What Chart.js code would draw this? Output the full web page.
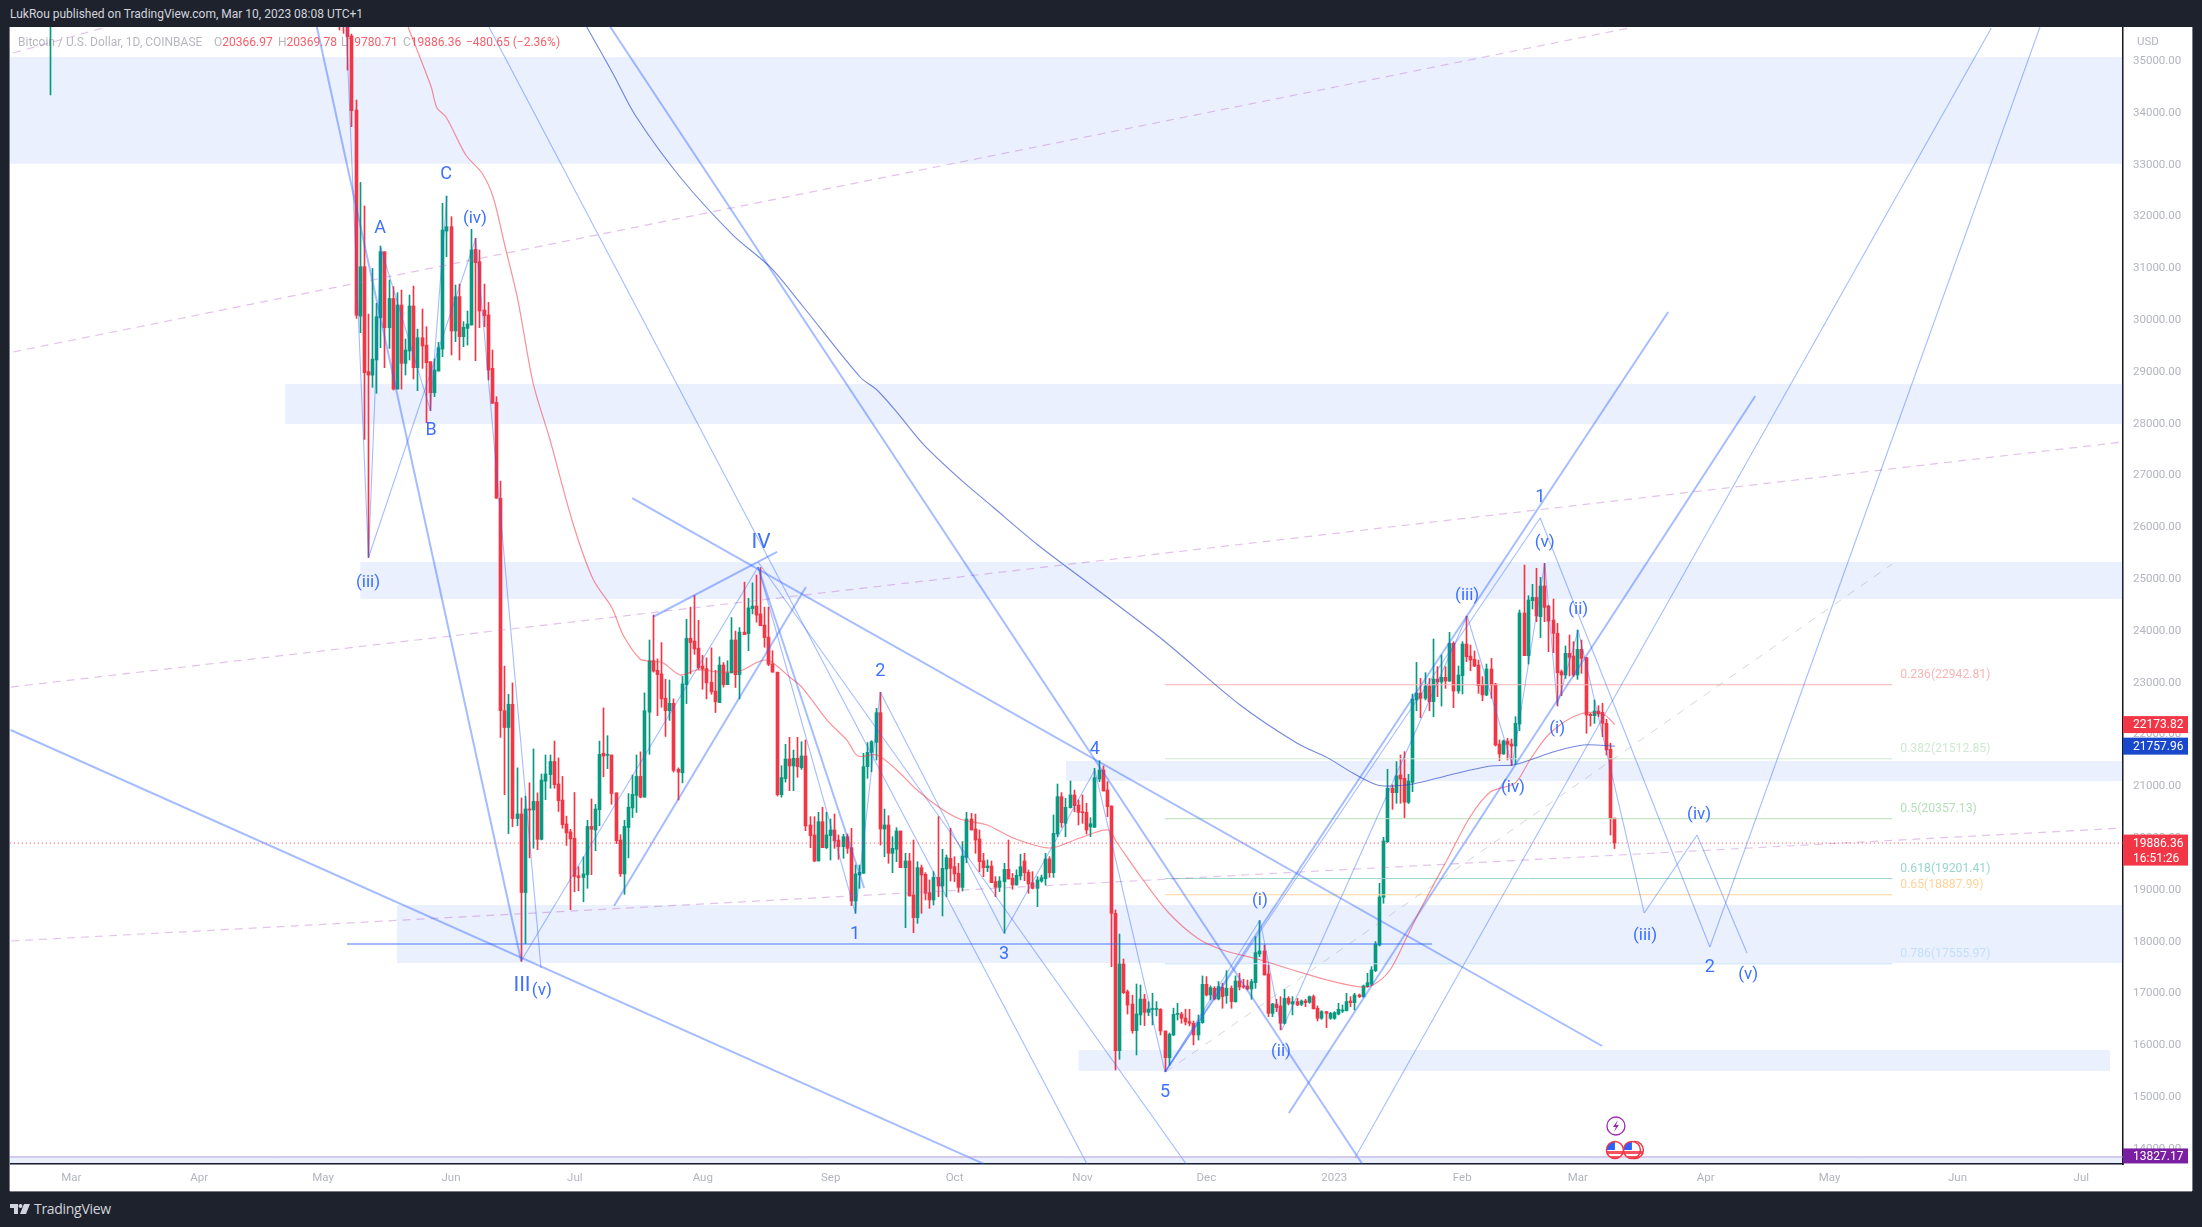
<!DOCTYPE html>
<html>
<head>
<meta charset="utf-8">
<title>BTCUSD 1D</title>
<script src="https://cdn.jsdelivr.net/npm/chart.js@4/dist/chart.umd.js"></script>
<style>
    html, body { margin: 0; padding: 0; background: #1e222d; width: 2202px; height: 1227px; overflow: hidden; font-family: Roboto, sans-serif; }
    #header { position: absolute; left: 10px; top: 7px; color: #d1d4dc; font-size: 12px; line-height: 15px; white-space: nowrap; }
    #pane { position: absolute; left: 10px; top: 27px; width: 2182px; height: 1164px; background: #fff; box-shadow: -1px 0 0 #787b86, 1px 0 0 #787b86, 0 1px 0 #787b86; }
    #legend span { position: absolute; top: 8px; font-size: 12px; line-height: 15px; white-space: nowrap; color: rgba(120,123,134,.55); }
    #legend b { font-weight: 400; color: rgba(242,54,69,.8); }
    #usd { position: absolute; left: 2137px; top: 34px; color: #b2b5be; font-size: 11.5px; line-height: 14px; }
    #logo { position: absolute; left: 10px; top: 1204px; }
    #brand { position: absolute; left: 34px; top: 1200px; color: #d1d4dc; font-size: 14px; line-height: 18px; font-family: "Open Sans", sans-serif; letter-spacing: -.3px; }
</style>
</head>
<body>
<div id="header">LukRou published on TradingView.com, Mar 10, 2023 08:08 UTC+1</div>
<div id="pane">
    <canvas id="chart" width="2182" height="1164"></canvas>
    <div id="legend">
        <span style="left:8px">Bitcoin / U.S. Dollar, 1D, COINBASE</span>
        <span style="left:204px">O<b>20366.97</b></span>
        <span style="left:268px">H<b>20369.78</b></span>
        <span style="left:331px">L<b>19780.71</b></span>
        <span style="left:393px">C<b>19886.36</b></span>
        <span style="left:456px"><b>−480.65 (−2.36%)</b></span>
    </div>
</div>
<div id="usd">USD</div>
<svg id="logo" width="20" height="10" viewBox="0 0 20 10"><path d="M0 0h8v10H4V4H0z M14 0h6l-4 10h-6z" fill="#d1d4dc"/><circle cx="10.5" cy="2" r="2" fill="#d1d4dc"/></svg>
<div id="brand">TradingView</div>
<script>
// 시간축: 2022-03-01 을 0 으로 둔 일(day) 단위
const monthTicks = [0, 31, 61, 92, 122, 153, 184, 214, 245, 275, 306, 337, 365, 396, 426, 457, 487];
const monthLabels = ['Mar', 'Apr', 'May', 'Jun', 'Jul', 'Aug', 'Sep', 'Oct', 'Nov', 'Dec', '2023', 'Feb', 'Mar', 'Apr', 'May', 'Jun', 'Jul'];
const priceTicks = [14000, 15000, 16000, 17000, 18000, 19000, 20000, 21000, 22000, 23000, 24000, 25000, 26000, 27000, 28000, 29000, 30000, 31000, 32000, 33000, 34000, 35000];

// 일봉: 첫 값은 day -5, 그 다음은 day 65 ~ 374 (10개씩 한 줄)
const stubDay = -5;
const firstDay = 65;
const openPrices = [37000,
    37000,36600,36100,35467,34038,30060,31014,28987,28920,29212,
    30030,31303,29836,30400,28652,30274,29148,29386,30255,29064,
    29643,29500,29180,28581,28999,29424,31702,31786,29772,30435,
    29663,29823,29888,31348,31110,30177,30081,29051,28395,26544,
    22442,22117,22566,20359,20449,18932,20545,20525,20690,19959,
    21083,21207,21462,21028,20718,20256,20104,19980,19256,19222,
    19277,20207,20138,20531,21621,21580,21587,20856,19946,19291,
    20187,20566,20807,21173,20773,22414,23407,23221,23152,22683,
    22442,22586,21311,21242,22945,23841,23786,23648,23303,23255,
    22993,22821,22600,23324,22945,23172,23807,23138,23958,23931,
    24413,24462,24310,24096,23862,23345,23186,20821,21131,21510,
    21375,21523,21342,21568,20236,20043,19541,20300,19798,20030,
    20139,19946,19817,20010,19798,18768,19270,19303,21362,21638,
    21831,22404,20158,20236,19689,19766,20120,19412,19541,18884,
    18447,19412,19283,18929,18788,19225,19058,19386,19592,19431,
    19303,19032,19611,20351,20158,19965,19547,19412,19444,19142,
    19032,19142,19380,19206,19077,19251,19541,19322,19122,19013,
    19155,19200,19580,19315,20062,20782,20268,20570,20815,20622,
    20480,20480,20200,20190,21124,21297,20911,20603,18530,15879,
    17552,17018,16780,16265,16568,16876,16619,16672,16675,16678,
    16259,15744,16182,16580,16587,16510,16439,16407,16182,16420,
    17160,16954,17083,16877,17102,16942,17083,16826,17224,17128,
    17128,17070,17192,17746,17804,17360,16600,16780,16742,16407,
    16890,16780,16826,16774,16838,16813,16922,16697,16504,16633,
    16504,16504,16587,16645,16651,16838,16806,16954,16922,17115,
    17160,17424,17920,18839,19914,20944,20860,21201,21137,20674,
    21059,22648,22783,22680,22918,22616,23053,22996,23086,23015,
    23742,22822,23118,23729,23497,23433,23324,22938,22745,23247,
    22957,21799,21606,21857,21799,21760,22185,24328,23504,24566,
    24630,24257,24849,24463,24192,23935,23195,23131,23549,23497,
    23131,23626,23465,22371,22346,22436,22410,22198,21696,20366.97];
const highPrices = [39800,
    37600,36800,36300,35505,34231,32641,32185,30100,30980,30306,
    31413,31303,30756,30628,30512,30563,29617,30467,30640,29810,
    30197,29856,29180,29231,29553,32236,32378,31979,30660,30679,
    29952,30158,31735,31561,31336,30679,30325,29405,28504,26875,
    23303,22759,22979,21338,20759,20794,21049,21704,20856,21221,
    21587,21587,21855,21531,21173,20407,20152,20863,19428,19621,
    20325,20738,20635,21855,22497,21959,21587,20856,20049,20325,
    20842,21200,21587,21648,22786,23807,24289,23441,23758,23048,
    23034,22669,21338,23104,24207,24441,24669,24186,23510,23462,
    23655,23220,23483,23372,23407,24241,23979,24048,24924,24613,
    24910,25062,25206,24441,24441,23600,23186,21380,21793,21928,
    21683,21928,21844,21877,20396,20396,20480,20577,20480,20351,
    20448,20043,20055,20062,20171,19463,19463,21619,21825,21863,
    22488,22797,20544,20416,20010,20184,20120,19689,19689,19946,
    19528,19463,19315,19174,19335,20396,19766,19656,20171,19624,
    19496,19914,20480,20461,20448,20139,19689,19560,19541,19238,
    19238,19496,19946,19299,19370,19669,19689,19367,19335,19238,
    19270,19689,19624,20429,21027,20860,20750,21085,20910,20720,
    20815,20654,20377,21330,21478,21375,21072,20603,18595,18131,
    17649,17050,16950,17166,17147,16967,16825,16986,16825,16690,
    16259,16220,16700,16793,16620,16680,16678,16451,16568,17321,
    17308,17128,17115,17212,17180,17424,17128,17321,17373,17256,
    17243,17256,18080,18389,17920,17533,16793,16870,16922,17064,
    16922,16922,16890,16858,16870,16935,16954,16742,16651,16633,
    16620,16633,16793,16761,16986,16922,16986,16973,17147,17373,
    17501,17984,19110,19998,21311,21010,21459,21587,21652,21213,
    22764,23375,23066,23176,23066,23826,23292,23517,23292,23954,
    23774,23305,23774,24270,23710,23594,23420,23100,23343,23452,
    22970,21876,21876,21908,21896,22326,24386,25254,24662,24881,
    25190,25016,25286,24480,24598,24128,23228,23691,23903,23774,
    24000,23806,23472,22391,22648,22539,22584,22275,21812,20369.78];
const lowPrices = [34328,
    35582,35518,34810,33716,30016,29740,27680,25400,28684,28570,
    29450,29064,29437,28632,28652,28650,28922,29212,28845,28620,
    29051,28002,28234,28504,28999,29276,31207,29309,29566,29212,
    29470,29500,29888,29199,29836,29856,28826,28376,26544,21924,
    20821,20070,20201,20221,17601,17946,19601,19787,19759,19946,
    20725,20945,20945,20497,20173,19842,18601,18946,18966,18753,
    19014,19277,19738,20221,21166,21324,20635,19876,19242,18897,
    19601,20380,20477,20759,20773,21600,23186,22345,22510,21945,
    22255,21256,20718,21049,22579,23152,23531,23241,22855,22669,
    22759,22407,22600,22896,22945,23172,22889,22669,23910,23600,
    24310,24151,24082,23668,23310,23186,20794,20773,21063,20898,
    20898,21156,21310,20126,19798,19528,19541,19798,19780,19560,
    19785,19573,19592,19689,18678,18530,19013,19303,21137,21265,
    21490,19849,19624,19496,19315,19528,19412,18254,18865,18157,
    18337,18530,18788,18627,18691,18852,18479,18852,19155,19142,
    18936,18961,19508,20139,19689,19335,19238,19335,19122,18852,
    18949,18144,19193,18994,19077,19174,19160,18916,19000,18659,
    19130,19077,19225,19225,20010,20190,20010,20560,20490,20236,
    20268,20062,20010,20190,21072,20892,20397,17500,15506,15712,
    16980,16587,16214,15796,16375,16362,16555,16375,16550,16182,
    15474,15598,16170,16470,16407,16375,16356,15989,16085,16407,
    16935,16858,16858,16858,16697,16793,16697,16813,17050,17083,
    17050,16871,17083,17694,17340,16536,16536,16633,16279,16394,
    16761,16568,16748,16748,16729,16793,16678,16453,16484,16324,
    16484,16484,16568,16613,16645,16729,16665,16903,16909,17102,
    17134,17404,17900,18724,19895,20538,20654,20654,20378,20650,
    20878,22442,22307,22648,22442,22326,22713,22532,22873,23002,
    22500,22777,22764,23388,23214,23292,22777,22635,22732,22680,
    21760,21477,21600,21490,21381,21413,22056,23504,23343,24405,
    24160,23852,24160,23581,23562,22532,22732,23066,23112,23099,
    23047,23163,22005,22146,22198,22327,21940,21586,20042,19780.71];
const closePrices = [38300,
    36600,36100,35454,34025,30080,31013,28968,28922,29230,30049,
    31303,29836,30400,28652,30274,29148,29405,30255,29064,29643,
    29482,29160,28581,29019,29450,31722,31786,29772,30435,29663,
    29843,29907,31336,31091,30158,30068,29019,28376,26544,22442,
    22117,22566,20359,20449,18932,20545,20525,20690,19959,21104,
    21221,21462,21014,20704,20242,20083,19966,19242,19222,19291,
    20207,20152,20545,21600,21566,21590,20842,19932,19291,20207,
    20580,20828,21173,20773,22442,23407,23207,23138,22669,22442,
    22586,21290,21256,22959,23841,23758,23634,23276,23248,22979,
    22807,22614,23324,22945,23172,23807,23138,23958,23910,24427,
    24462,24289,24082,23855,23338,23186,20821,21152,21510,21375,
    21523,21362,21568,20216,20030,19541,20300,19798,20043,20139,
    19927,19817,20010,19785,18768,19290,19322,21362,21638,21844,
    22404,20158,20236,19689,19785,20120,19412,19541,18865,18447,
    19412,19270,18916,18788,19225,19058,19399,19605,19399,19290,
    19032,19637,20351,20139,19946,19528,19412,19444,19122,19032,
    19155,19380,19193,19077,19264,19431,19315,19097,19013,19174,
    19219,19580,19315,20075,20782,20280,20577,20815,20609,20480,
    20474,20139,20260,21149,21297,20892,20590,18530,15879,17552,
    16999,16760,16265,16587,16876,16619,16683,16688,16685,16259,
    15744,16195,16581,16590,16504,16433,16407,16182,16426,17160,
    16954,17096,16877,17115,16922,17083,16826,17224,17109,17109,
    17070,17212,17771,17804,17340,16600,16780,16710,16407,16890,
    16793,16826,16761,16838,16806,16922,16690,16504,16633,16600,
    16600,16613,16677,16664,16826,16806,16954,16922,17128,17192,
    17437,17939,18846,19927,20944,20860,21182,21124,20674,21085,
    22667,22783,22680,22918,22616,23053,22996,23086,23015,23742,
    22822,23131,23729,23485,23420,23305,22925,22745,23247,22938,
    21779,21606,21857,21792,21760,22198,24328,23504,24579,24630,
    24270,24849,24437,24173,23935,23176,23131,23549,23472,23131,
    23626,23452,22358,22346,22436,22378,22198,21683,20367,19886.36];

// 이동평균 (빨강)
const redEmaDays = [81.6,87.2,88.6,90.8,95.6,99.5,102.2,104.9,108.2,111.9,116,121.6,126.4,131,133.7,137.8,140.2,143.4,147.5,151.6,157.2,162,166.9,169.3,174.2,177,183.1,187.9,190.6,195.2,200,204.9,210.5,215.3,221.9,228.2,237.1,244.4,251.2,253.4,259.7,265.7,272.8,279,287.3,296,304.3,312.3,315.4,319.5,323.6,326.8,333.3,338.9,343.8,349.8,353.4,358.3,365.5,371.1,374];
const redEmaValues = [35641,34482,34077,33903,33170,32822,32359,31471,30370,28768,27668,26046,24984,24425,23903,23440,23401,23363,23131,23228,23189,23208,23401,23401,23083,22899,22262,21876,21567,21586,21297,20911,20563,20351,20235,19984,19791,19984,20139,19888,19174,18556,18054,17822,17648,17436,17243,17108,17146,17436,18073,18594,19560,20390,20872,21046,21490,22011,22378,22378,22174];
// 이동평균 (파랑)
const blueEmaDays = [124.9,131.3,136.6,147.5,160.3,169.3,177,191.1,195.2,200,206.4,214.8,223.3,234.2,249.3,264.5,283.2,297,304.3,310.5,316.4,320.2,325.1,334,343.8,349.3,353.4,359,366.3,374];
const blueEmaValues = [35641,34733,33942,32745,31625,31008,30274,28884,28633,28208,27590,26953,26374,25641,24733,23807,22552,21815,21536,21239,21008,20988,21027,21201,21374,21394,21490,21645,21780,21758];

// 사각 구간 [시작일, 끝일, 아래, 위]
const priceZones = [
    [-14.9, 497.1, 33000, 35060],
    [51.8, 497.1, 27977, 28750],
    [70, 497.1, 24600, 25313],
    [241, 497.1, 21085, 21471],
    [78.9, 497.1, 17571, 18691],
    [244, 494, 15486, 15892],
    [-14.9, 497.1, 13600, 13827]
];

// 추세선 [일1, 가격1, 일2, 가격2]
const thinLines = [
    [66.6,35641,72,25400], [72,25400,75,31374], [75,31374,87,28240], [87,28240,91,32378],
    [72,25400,98,31560], [98,31560,113.8,17475], [109,17610,166.4,25216], [166.4,25216,190,18530],
    [190,18530,196,22803], [196,22803,226,18150], [226,18150,248,21297], [248,21297,265,15467],
    [265,15467,288,18401], [288,18401,293.3,16278], [293.3,16278,338.2,24270], [338.2,24270,349.1,21394],
    [349.1,21394,357,25293], [357,25293,360,22552], [360,22552,365.1,23999], [365.1,23999,381.1,18537],
    [381.1,18537,393.9,20042], [393.9,20042,406,17764], [355.9,26162,397,17881], [397,17881,477.5,35756],
    [311,13807,465.2,35621], [265,15467,355.9,26162], [101.2,35641,246.1,13691], [166.4,25313,270.3,13672]
];
const mediumLines = [
    [59.5,35641,109,17610], [265,15467,386.9,30139], [295,14675,408,28517], [130.6,35641,312.8,13692],
    [135.9,26548,370.9,15969], [-14.7,22069,221.2,13690], [140.9,24251,171,25506], [131.5,18671,178,24830],
    [66.8,17938,329.7,17938], [166.4,25216,192.1,19019]
];
const pinkDashedLines = [
    [-14.1,29367,377.4,35621], [-14.6,22899,497,27629], [-14.6,17996,497,20177], [-14.1,35139,7.7,35621]
];
const grayDashedLines = [[265.2,15467,441.2,25274]];

// 피보나치
const fibNames = ['0.236', '0.382', '0.5', '0.618', '0.65', '0.786'];
const fibPrices = [22942.81, 21512.85, 20357.13, 19201.41, 18887.99, 17555.97];
const fibColors = ['#f7b5b5', '#cfe8d0', '#b5deb8', '#99d4cd', '#ffd49c', '#c2e0fb'];
const fibStartDay = 265;
const fibEndDay = 441.2;

// 파동 라벨
const waveTexts = ['A','B','C','(iv)','(iii)','IV','III','(v)','1','2','3','4','5','(i)','(ii)','(iii)','(iv)','(v)','(ii)','(i)','1','(iv)','(iii)','2','(v)'];
const waveDays = [74.8,87.2,90.8,97.8,71.9,167.1,109.2,114,189.9,196,226,248,265,288,293.1,338.2,349.3,357,365.1,360,355.9,394.4,381.3,397,406.3];
const wavePrices = [31760,27842,32784,31934,24907,25680,17127,17031,18112,23208,17726,21702,15062,18768,15853,24656,20950,25679,24386,22089,26567,20428,18092,17475,17340];
const waveSizes = [18,18,18,17,17,21,21,17,18,18,18,18,18,17,17,17,17,17,17,17,18,17,17,18,17];

const lastClose = 19886.36;
const redEmaLast = 22173.82;
const blueEmaLast = 21757.96;
const supportLevel = 13827.17;
const countdownText = '16:51:26';

const GREEN = '#089981';
const RED = '#f23645';
const LINE_BLUE = 'rgba(41, 98, 255, 0.42)';

const candleDays = openPrices.map((_, i) => (i === 0 ? stubDay : firstDay + i - 1));
const candleColors = openPrices.map((o, i) => (closePrices[i] >= o ? GREEN : RED));

function segmentDatasets(list, color, width, dash, order) {
    return list.map(s => ({
        type: 'line',
        data: [{ x: s[0], y: s[1] }, { x: s[2], y: s[3] }],
        borderColor: color,
        borderWidth: width,
        borderDash: dash,
        pointRadius: 0,
        order: order
    }));
}

function curveDataset(days, values, color, width) {
    return {
        type: 'line',
        data: days.map((d, i) => ({ x: d, y: values[i] })),
        borderColor: color,
        borderWidth: width,
        pointRadius: 0,
        tension: 0.3,
        order: 3
    };
}

const datasets = [];

priceZones.forEach(z => {
    datasets.push({
        type: 'line',
        data: [{ x: z[0], y: z[3] }, { x: z[1], y: z[3] }],
        borderWidth: 0,
        pointRadius: 0,
        backgroundColor: 'rgba(41, 98, 255, 0.095)',
        fill: { value: z[2] },
        order: 60
    });
});

// 캔들 꼬리 + 몸통 (floating bar)
datasets.push({
    type: 'bar',
    data: candleDays.map((d, i) => ({ x: d, y: [lowPrices[i], highPrices[i]] })),
    backgroundColor: candleColors,
    barThickness: 1,
    grouped: false,
    order: 21
});
datasets.push({
    type: 'bar',
    data: candleDays.map((d, i) => ({ x: d, y: [openPrices[i], closePrices[i]] })),
    backgroundColor: candleColors,
    barThickness: 3,
    minBarLength: 1,
    grouped: false,
    order: 20
});

datasets.push(...segmentDatasets(grayDashedLines, 'rgba(120, 123, 134, 0.3)', 1, [8, 8], 12));
datasets.push(...segmentDatasets(pinkDashedLines, 'rgba(186, 104, 200, 0.4)', 1.2, [8, 6], 11));
datasets.push(...segmentDatasets(thinLines, LINE_BLUE, 1.1, [], 5));
datasets.push(...segmentDatasets(mediumLines, LINE_BLUE, 2, [], 4));
datasets.push(curveDataset(redEmaDays, redEmaValues, 'rgba(242, 54, 69, 0.55)', 1.2));
datasets.push(curveDataset(blueEmaDays, blueEmaValues, 'rgba(41, 72, 200, 0.65)', 1.1));

fibPrices.forEach((p, i) => {
    datasets.push({
        type: 'line',
        data: [{ x: fibStartDay, y: p }, { x: fibEndDay, y: p }],
        borderColor: fibColors[i],
        borderWidth: 1,
        pointRadius: 0,
        order: 15
    });
});

// 현재가 점선, 보라 수평선
datasets.push({
    type: 'line',
    data: [{ x: -14.9, y: lastClose }, { x: 497.1, y: lastClose }],
    borderColor: RED,
    borderWidth: 1,
    borderDash: [1, 3],
    pointRadius: 0,
    order: 2
});
datasets.push({
    type: 'line',
    data: [{ x: -14.9, y: supportLevel }, { x: 497.1, y: supportLevel }],
    borderColor: '#b39ddb',
    borderWidth: 1,
    pointRadius: 0,
    order: 2
});

function drawPriceTag(ctx, area, y, height, color, lines) {
    ctx.fillStyle = color;
    ctx.fillRect(area.right, y, 65, height);
    ctx.fillStyle = '#fff';
    ctx.font = '12px Roboto, sans-serif';
    ctx.textAlign = 'left';
    ctx.textBaseline = 'middle';
    lines.forEach((t, i) => ctx.fillText(t, area.right + 10, y + 9 + i * 15));
}

function drawFlag(ctx, cx, cy) {
    ctx.save();
    ctx.beginPath();
    ctx.arc(cx, cy, 8.5, 0, Math.PI * 2);
    ctx.fillStyle = '#fff';
    ctx.fill();
    ctx.clip();
    ctx.fillStyle = '#f7525f';
    ctx.fillRect(cx - 9, cy + 1, 18, 3);
    ctx.fillRect(cx - 9, cy + 6, 18, 3);
    ctx.fillStyle = '#2962ff';
    ctx.fillRect(cx - 9, cy - 9, 9, 9);
    ctx.restore();
    ctx.beginPath();
    ctx.arc(cx, cy, 8.5, 0, Math.PI * 2);
    ctx.strokeStyle = '#f23645';
    ctx.lineWidth = 1.5;
    ctx.stroke();
}

const annotationPlugin = {
    id: 'annotations',
    // 캔들이 흐려지지 않게 픽셀에 맞춤
    beforeDatasetsDraw(chart) {
        chart.getSortedVisibleDatasetMetas().forEach(meta => {
            if (meta.type !== 'bar') return;
            meta.data.forEach(bar => { bar.x = Math.floor(bar.x) + 0.5; });
        });
    },
    afterDatasetsDraw(chart) {
        const { ctx, scales: { x, y } } = chart;
        ctx.save();
        ctx.textAlign = 'center';
        ctx.textBaseline = 'middle';
        ctx.fillStyle = 'rgba(41, 98, 255, 0.9)';
        waveTexts.forEach((t, i) => {
            ctx.font = `${waveSizes[i]}px Roboto, sans-serif`;
            ctx.fillText(t, x.getPixelForValue(waveDays[i]), y.getPixelForValue(wavePrices[i]));
        });
        ctx.textAlign = 'left';
        ctx.font = '12.2px Roboto, sans-serif';
        fibNames.forEach((n, i) => {
            ctx.fillStyle = fibColors[i];
            ctx.fillText(`${n}(${fibPrices[i].toFixed(2)})`, x.getPixelForValue(fibEndDay) + 8, y.getPixelForValue(fibPrices[i]) - 10);
        });
        // 이벤트 아이콘
        const eventX = x.getPixelForValue(374);
        const baseY = chart.chartArea.bottom;
        ctx.beginPath();
        ctx.arc(eventX + 1, baseY - 38, 9, 0, Math.PI * 2);
        ctx.fillStyle = '#fff';
        ctx.fill();
        ctx.strokeStyle = '#9c27b0';
        ctx.lineWidth = 1.3;
        ctx.stroke();
        ctx.beginPath();
        ctx.moveTo(eventX + 3, baseY - 44);
        ctx.lineTo(eventX - 2, baseY - 37);
        ctx.lineTo(eventX + 1, baseY - 37);
        ctx.lineTo(eventX - 1, baseY - 32);
        ctx.lineTo(eventX + 4, baseY - 39);
        ctx.lineTo(eventX + 1, baseY - 39);
        ctx.closePath();
        ctx.fillStyle = '#9c27b0';
        ctx.fill();
        drawFlag(ctx, eventX + 20, baseY - 14);
        drawFlag(ctx, eventX + 17, baseY - 14);
        drawFlag(ctx, eventX, baseY - 14);
        ctx.restore();
    },
    afterDraw(chart) {
        const { ctx, chartArea, scales: { y } } = chart;
        ctx.save();
        drawPriceTag(ctx, chartArea, y.getPixelForValue(redEmaLast) - 8.5, 17, RED, [redEmaLast.toFixed(2)]);
        drawPriceTag(ctx, chartArea, y.getPixelForValue(blueEmaLast) - 8.5, 17, '#1848cc', [blueEmaLast.toFixed(2)]);
        drawPriceTag(ctx, chartArea, y.getPixelForValue(lastClose) - 8.5, 31, RED, [lastClose.toFixed(2), countdownText]);
        drawPriceTag(ctx, chartArea, y.getPixelForValue(supportLevel) - 8.5, 15, '#7b1fa2', [supportLevel.toFixed(2)]);
        ctx.restore();
    }
};

new Chart(document.getElementById('chart'), {
    type: 'bar',
    data: { datasets: datasets },
    plugins: [annotationPlugin],
    options: {
        responsive: false,
        animation: false,
        events: [],
        layout: { padding: 0 },
        plugins: { legend: { display: false }, tooltip: { enabled: false } },
        scales: {
            x: {
                type: 'linear',
                offset: false,
                min: -14.85,
                max: 497.1,
                grid: { display: false, drawTicks: false },
                border: { display: true, color: '#131722', width: 1.5 },
                afterBuildTicks: axis => { axis.ticks = monthTicks.map(v => ({ value: v })); },
                afterFit: axis => { axis.height = 27; axis.paddingLeft = 0; axis.paddingRight = 0; },
                ticks: {
                    autoSkip: false,
                    maxRotation: 0,
                    padding: 7,
                    color: '#b2b5be',
                    font: { family: 'Roboto', size: 11.5 },
                    callback: value => monthLabels[monthTicks.indexOf(value)]
                }
            },
            y: {
                type: 'linear',
                position: 'right',
                min: 13691,
                max: 35641,
                grid: { display: false, drawTicks: false },
                border: { display: true, color: '#131722', width: 1.5 },
                afterBuildTicks: axis => { axis.ticks = priceTicks.map(v => ({ value: v })); },
                afterFit: axis => { axis.width = 69; axis.paddingTop = 0; axis.paddingBottom = 0; },
                ticks: {
                    autoSkip: false,
                    padding: 10,
                    labelOffset: 1,
                    color: '#b2b5be',
                    font: { family: 'Roboto', size: 11.5 },
                    callback: value => value.toFixed(2)
                }
            }
        }
    }
});
</script>
</body>
</html>
